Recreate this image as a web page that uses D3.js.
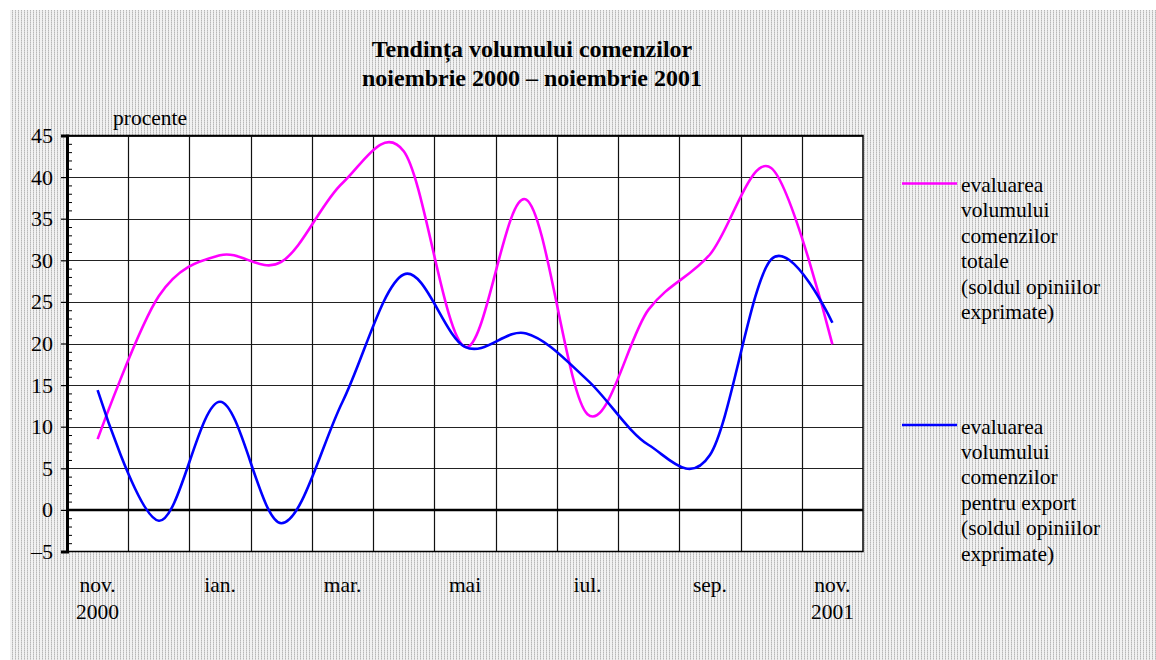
<!DOCTYPE html>
<html>
<head>
<meta charset="utf-8">
<script src="https://cdn.jsdelivr.net/npm/d3@7"></script>
<style>
  body { margin: 0; background: #fff; }
  svg text { font-family: "Liberation Serif", "Times New Roman", serif; fill: #000; }
</style>
</head>
<body>
<div id="chart"></div>
<script>
const months = ["nov. 2000", "dec.", "ian.", "feb.", "mar.", "apr.", "mai", "iun.", "iul.", "aug.", "sep.", "oct.", "nov. 2001"];
const monthLabels = ["nov.", "", "ian.", "", "mar.", "", "mai", "", "iul.", "", "sep.", "", "nov."];
const yearLabels = ["2000", "", "", "", "", "", "", "", "", "", "", "", "2001"];
const totalOrders = [8.5, 25.7, 30.6, 29.8, 39.3, 43.1, 19.6, 37.3, 11.5, 24.1, 30.7, 41.1, 19.9];
const exportOrders = [14.4, -1.3, 13.0, -1.6, 13.0, 28.3, 19.6, 21.2, 15.6, 7.8, 6.6, 30.1, 22.5];
const yTicks = [-5, 0, 5, 10, 15, 20, 25, 30, 35, 40, 45];
const legendTotal = ["evaluarea", "volumului", "comenzilor", "totale", "(soldul opiniilor", "exprimate)"];
const legendExport = ["evaluarea", "volumului", "comenzilor", "pentru export", "(soldul opiniilor", "exprimate)"];

const W = 1156, H = 660;
const plot = {left: 67, right: 863, top: 135.5, bottom: 551.5};

const svg = d3.select("#chart").append("svg")
    .attr("width", W).attr("height", H);

// dotted background
const defs = svg.append("defs");
const pat = defs.append("pattern")
    .attr("id", "dots").attr("patternUnits", "userSpaceOnUse")
    .attr("width", 3).attr("height", 2);
pat.append("rect").attr("width", 3).attr("height", 2).attr("fill", "#f2f2f2");
pat.append("rect").attr("x", 0).attr("y", 0).attr("width", 1).attr("height", 1).attr("fill", "#b8b8b8");
pat.append("rect").attr("x", 0).attr("y", 1).attr("width", 1).attr("height", 1).attr("fill", "#d2d2d2");

svg.append("rect").attr("x", 10).attr("y", 10)
    .attr("width", W - 10).attr("height", H - 10)
    .attr("fill", "url(#dots)");

// title
svg.append("text").attr("x", 532).attr("y", 57)
    .attr("text-anchor", "middle").style("font-size", "24px").style("font-weight", "bold")
    .text("Tendința volumului comenzilor");
svg.append("text").attr("x", 532).attr("y", 86)
    .attr("text-anchor", "middle").style("font-size", "24px").style("font-weight", "bold")
    .text("noiembrie 2000 – noiembrie 2001");

svg.append("text").attr("x", 113).attr("y", 125)
    .style("font-size", "21.5px").text("procente");

const x = d3.scaleBand().domain(months).range([plot.left, plot.right]);
const y = d3.scaleLinear().domain([-5, 45]).range([plot.bottom, plot.top]);
const cx = d => x(d) + x.bandwidth() / 2;

svg.append("rect")
    .attr("x", plot.left).attr("y", plot.top)
    .attr("width", plot.right - plot.left).attr("height", plot.bottom - plot.top)
    .attr("fill", "#fff");

// horizontal grid
svg.append("g")
    .selectAll("line").data(yTicks.filter(d => d !== 0 && d !== -5)).enter().append("line")
    .attr("x1", plot.left).attr("x2", plot.right)
    .attr("y1", d => Math.round(y(d)) + 0.5).attr("y2", d => Math.round(y(d)) + 0.5)
    .attr("stroke", "#222").attr("stroke-width", 1.2);

// vertical grid (category boundaries)
svg.append("g")
    .selectAll("line").data(months.slice(1)).enter().append("line")
    .attr("x1", d => Math.round(x(d)) + 0.5).attr("x2", d => Math.round(x(d)) + 0.5)
    .attr("y1", plot.top).attr("y2", plot.bottom)
    .attr("stroke", "#111").attr("stroke-width", 1.2);

// frame
svg.append("rect")
    .attr("x", plot.left).attr("y", plot.top)
    .attr("width", plot.right - plot.left).attr("height", plot.bottom - plot.top)
    .attr("fill", "none").attr("stroke", "#000").attr("stroke-width", 1.5);

// zero line
svg.append("line")
    .attr("x1", plot.left).attr("x2", plot.right)
    .attr("y1", y(0)).attr("y2", y(0))
    .attr("stroke", "#000").attr("stroke-width", 2.5);

// y axis with minor ticks
const yAxis = d3.axisLeft(y).tickValues(yTicks).tickSize(6).tickPadding(8)
    .tickFormat(d => d < 0 ? "–" + Math.abs(d) : d);
const gy = svg.append("g").attr("transform", `translate(${plot.left},0)`).call(yAxis);
gy.select(".domain").attr("stroke", "#000").attr("stroke-width", 3);
gy.selectAll(".tick line").attr("stroke", "#000").attr("stroke-width", 1.2);
gy.selectAll(".tick text").style("font-size", "22px")
    .style("font-family", "'Liberation Serif', 'Times New Roman', serif");

const minor = d3.range(-5, 45.01, 1).filter(d => d % 5 !== 0);
const gm = svg.append("g").attr("transform", `translate(${plot.left},0)`)
    .call(d3.axisRight(y).tickValues(minor).tickSize(5).tickFormat(""));
gm.select(".domain").remove();
gm.selectAll(".tick line").attr("stroke", "#000").attr("stroke-width", 1);

// x labels
svg.append("g").selectAll("text").data(months).enter().append("text")
    .attr("x", d => cx(d)).attr("y", 592)
    .attr("text-anchor", "middle").style("font-size", "21.5px")
    .text((d, i) => monthLabels[i]);
svg.append("g").selectAll("text").data(months).enter().append("text")
    .attr("x", d => cx(d)).attr("y", 619)
    .attr("text-anchor", "middle").style("font-size", "21.5px")
    .text((d, i) => yearLabels[i]);

// series
const line = d3.line()
    .x((d, i) => cx(months[i]))
    .y(d => y(d))
    .curve(d3.curveCardinal.tension(0));

svg.append("path").datum(totalOrders)
    .attr("d", line).attr("fill", "none")
    .attr("stroke", "#ff00ff").attr("stroke-width", 2.6);
svg.append("path").datum(exportOrders)
    .attr("d", line).attr("fill", "none")
    .attr("stroke", "#0000ff").attr("stroke-width", 2.6);

// legend
function legend(items, color, ly, ty) {
    const g = svg.append("g");
    g.append("line").attr("x1", 902).attr("x2", 957)
        .attr("y1", ly).attr("y2", ly)
        .attr("stroke", color).attr("stroke-width", 2.6);
    g.selectAll("text").data(items).enter().append("text")
        .attr("x", 961).attr("y", (d, i) => ty + i * 25.4)
        .style("font-size", "21.5px").text(d => d);
}
legend(legendTotal, "#ff00ff", 183.5, 192);
legend(legendExport, "#0000ff", 425, 433.5);
</script>
</body>
</html>
